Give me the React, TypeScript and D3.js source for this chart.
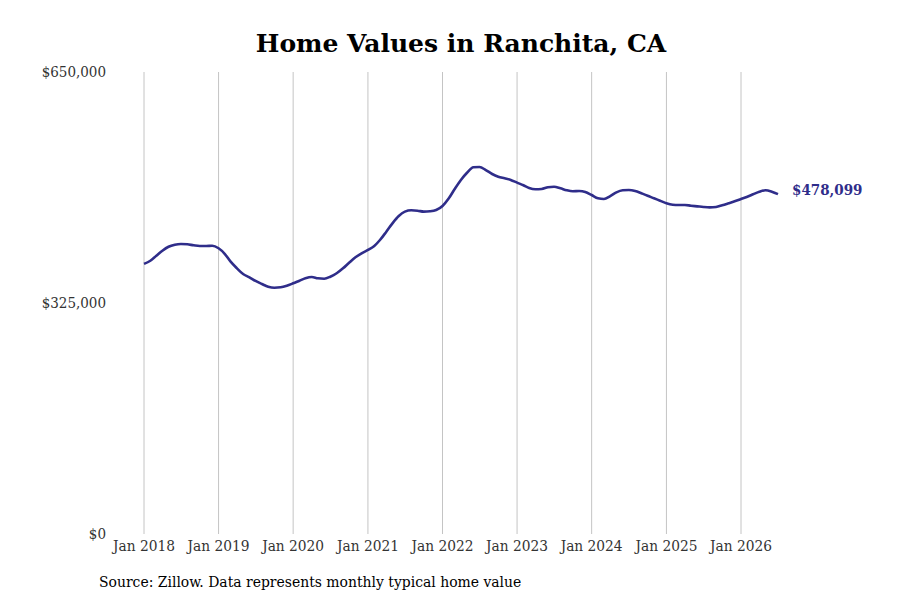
import React, { useEffect, useMemo } from "react";
import * as d3 from "d3";

const title = "Home Values in Ranchita, CA";
const source = "Source: Zillow. Data represents monthly typical home value";
const startMonth = new Date(2018, 0, 1);

// monthly typical home value, Jan 2018 .. Jul 2026
const values = [
  380000, 384500, 391100, 398600, 404200, 407000, 408000, 407600, 406200, 405200, 405200, 405600,
  402000, 393900, 383100, 373800, 365800, 361200, 356000, 351700, 347900, 346500, 347100, 349300,
  352700, 356400, 359800, 361600, 359800, 359200, 362000, 366800, 373800, 381700, 389300, 394900,
  399600, 405200, 413600, 425300, 437100, 447400, 453500, 455400, 454900, 453500, 454000, 455800,
  461500, 472300, 485000, 498100, 508300, 515900, 516300, 512100, 506500, 502700, 500400, 498100,
  494300, 490600, 486800, 485000, 485400, 487800, 488600, 486400, 483600, 482200, 482600, 481200,
  476900, 472300, 471300, 475500, 480700, 483600, 484000, 482600, 479300, 476000, 472300, 468900,
  465300, 463300, 462900, 462900, 461900, 461000, 460100, 459600, 460100, 462500, 465300, 468100,
  471300, 474600, 477900, 481600, 483600, 481600, 478099,
];

const yTicks = [0, 325000, 650000];
const xTickYears = [2018, 2019, 2020, 2021, 2022, 2023, 2024, 2025, 2026];

const W = 900;
const H = 600;
const font = "'DejaVu Serif', serif";
const condensed = "'DejaVu Serif Condensed', 'DejaVu Serif', serif";

export default function App() {
  useEffect(() => {
    document.body.style.margin = "0";
  }, []);

  const data = useMemo(
    () => values.map((v, i) => ({ date: d3.timeMonth.offset(startMonth, i), value: v })),
    []
  );

  const x = d3
    .scaleTime()
    .domain([new Date(2018, 0, 1), new Date(2026, 0, 1)])
    .range([144, 741]);
  const y = d3.scaleLinear().domain([0, 650000]).range([534, 72]);

  const line = d3
    .line<{ date: Date; value: number }>()
    .x((d) => x(d.date))
    .y((d) => y(d.value))
    .curve(d3.curveMonotoneX);

  const fmt = d3.format("$,");
  const last = data[data.length - 1];

  return (
    <svg width={W} height={H} style={{ display: "block", background: "#fff" }}>
      <text
        x={461}
        y={52}
        textAnchor="middle"
        fontFamily={font}
        fontWeight="bold"
        fontSize={25}
        fill="#000"
      >
        {title}
      </text>

      {xTickYears.map((yr) => {
        const xx = x(new Date(yr, 0, 1));
        return (
          <g key={yr}>
            <line x1={xx} x2={xx} y1={y(650000)} y2={y(0)} stroke="#c4c4c4" strokeWidth={1} />
            <text
              x={xx}
              y={551}
              textAnchor="middle"
              fontFamily={condensed}
              fontSize={15.3}
              fontStretch="condensed"
              fill="#333"
            >
              {`Jan ${yr}`}
            </text>
          </g>
        );
      })}

      {yTicks.map((t) => (
        <text
          key={t}
          x={106}
          y={y(t) + 5}
          textAnchor="end"
          fontFamily={condensed}
          fontSize={15}
          fontStretch="condensed"
          fill="#333"
        >
          {fmt(t)}
        </text>
      ))}

      <path d={line(data) ?? ""} fill="none" stroke="#2f2d8a" strokeWidth={2.6} strokeLinejoin="round" />

      <text
        x={792}
        y={y(last.value) + 0.5}
        fontFamily={condensed}
        fontWeight="bold"
        fontSize={15}
        fontStretch="condensed"
        fill="#2f2d8a"
      >
        {fmt(last.value)}
      </text>

      <text
        x={99}
        y={587}
        fontFamily={condensed}
        fontSize={15.5}
        fontStretch="condensed"
        fill="#000"
      >
        {source}
      </text>
    </svg>
  );
}
